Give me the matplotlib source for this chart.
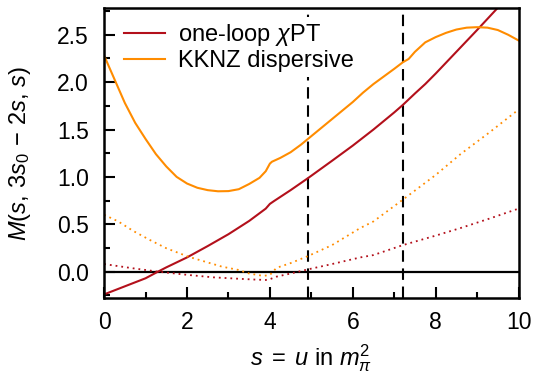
import matplotlib
matplotlib.use("Agg")
import matplotlib.pyplot as plt

plt.rcParams['font.family'] = ['Liberation Sans', 'DejaVu Sans']
plt.rcParams['mathtext.fontset'] = 'custom'
plt.rcParams['mathtext.rm'] = 'Liberation Sans'
plt.rcParams['mathtext.it'] = 'Liberation Sans:italic'
plt.rcParams['mathtext.sf'] = 'Liberation Sans'

# one-loop ChPT, solid
s_chpt = [0, 0.5, 1, 1.3, 1.5, 2, 2.5, 3, 3.5, 3.9, 4.0, 4.1, 4.5, 4.93, 5.5, 6,
          6.5, 7, 7.21, 7.5, 7.75, 8, 8.5, 9, 9.5, 9.7]
M_chpt = [-0.24, -0.155, -0.07, 0.0, 0.045, 0.15, 0.27, 0.395, 0.535, 0.665, 0.715,
          0.745, 0.86, 0.99, 1.17, 1.33, 1.50, 1.68, 1.76, 1.88, 1.98, 2.09, 2.32,
          2.55, 2.785, 2.87]

# KKNZ dispersive, solid
s_kknz = [0, 0.25, 0.5, 0.75, 1.0, 1.25, 1.5, 1.75, 2.0, 2.25, 2.5, 2.75, 3.0, 3.25,
          3.5, 3.75, 3.9, 4.0, 4.05, 4.25, 4.5, 4.75, 5.0, 5.25, 5.5, 5.75, 6.0, 6.25,
          6.5, 6.75, 7.0, 7.21, 7.35, 7.5, 7.75, 8.0, 8.25, 8.5, 8.75, 9.0, 9.25, 9.5,
          9.75, 10]
M_kknz = [2.28, 2.03, 1.78, 1.57, 1.40, 1.24, 1.11, 1.00, 0.93, 0.885, 0.86, 0.848,
          0.85, 0.87, 0.925, 0.99, 1.06, 1.14, 1.16, 1.20, 1.26, 1.34, 1.43, 1.52,
          1.61, 1.70, 1.79, 1.89, 1.98, 2.06, 2.14, 2.21, 2.245, 2.32, 2.42, 2.475,
          2.52, 2.555, 2.575, 2.58, 2.575, 2.55, 2.50, 2.44]

# dotted curves
s_kknz_dot = [0, 0.34, 0.7, 1.1, 1.5, 2.03, 2.43, 2.84, 3.24, 3.5, 3.84, 4.0, 4.16,
              4.5, 4.93, 5.5, 6.18, 6.5, 7.21, 8, 8.6, 9.3, 10]
M_kknz_dot = [0.60, 0.53, 0.43, 0.335, 0.247, 0.158, 0.106, 0.053, 0.018, -0.02,
              -0.045, -0.035, 0.04, 0.09, 0.166, 0.28, 0.46, 0.53, 0.76, 1.02, 1.24,
              1.47, 1.71]

s_chpt_dot = [0, 0.7, 1.3, 2.03, 2.63, 3.24, 3.6, 3.9, 4.0, 4.16, 4.5, 4.93, 5.5,
              6.18, 6.5, 7.21, 8, 8.6, 9.3, 10]
M_chpt_dot = [0.08, 0.035, 0.0, -0.035, -0.06, -0.075, -0.083, -0.088, -0.08,
              -0.053, -0.02, 0.025, 0.08, 0.15, 0.175, 0.28, 0.38, 0.46, 0.56, 0.665]

s_bounds = [4.93, 7.21]

red = '#b3101b'
orange = '#ff8c00'

fig = plt.figure(figsize=(5.34, 3.74), dpi=100)
ax = fig.add_axes([0.195, 0.202, 0.776, 0.776])

ax.axhline(0, color='black', lw=1.6, zorder=1)
for xb in s_bounds:
    ax.axvline(xb, color='black', lw=1.5, dashes=(5.5, 3.2), zorder=1)

ax.plot(s_chpt, M_chpt, color=red, lw=1.5, label=r'one-loop $\chi$PT')
ax.plot(s_kknz, M_kknz, color=orange, lw=1.5, label='KKNZ dispersive')
ax.plot(s_kknz_dot, M_kknz_dot, color=orange, lw=1.3, dashes=(1, 2.2))
ax.plot(s_chpt_dot, M_chpt_dot, color=red, lw=1.3, dashes=(1, 2.2))

ax.set_xlim(0, 10)
ax.set_ylim(-0.283, 2.78)
ax.set_xticks([0, 2, 4, 6, 8, 10])
ax.set_xticks([1, 3, 5, 7, 9], minor=True)
ax.set_yticks([0.0, 0.5, 1.0, 1.5, 2.0, 2.5])
ax.set_yticks([-0.25, 0.25, 0.75, 1.25, 1.75, 2.25, 2.75], minor=True)
ax.set_yticklabels(['0.0', '0.5', '1.0', '1.5', '2.0', '2.5'])

ax.tick_params(which='both', direction='in', width=1.5, labelsize=16.5)
ax.tick_params(which='major', length=8)
ax.tick_params(which='minor', length=4.5)
ax.tick_params(axis='x', pad=9)
ax.tick_params(axis='y', pad=11)
for sp in ax.spines.values():
    sp.set_linewidth(1.8)

ax.set_xlabel(r'$s\;=\;u$ in $m_\pi^2$', fontsize=17)
ax.xaxis.set_label_coords(0.5, -0.15)
ax.set_ylabel(r'$M(s,\, 3s_0\, -\, 2s,\, s)$', fontsize=17)
ax.yaxis.set_label_coords(-0.172, 0.5)

leg = ax.legend(loc='upper left', bbox_to_anchor=(0.036, 0.969), frameon=True,
                fontsize=17, borderpad=0.2, borderaxespad=0, handlelength=1.74,
                handletextpad=0.55, labelspacing=0.1, fancybox=False,
                facecolor='white', edgecolor='none', framealpha=1.0)

fig.savefig('out.png', dpi=100)
